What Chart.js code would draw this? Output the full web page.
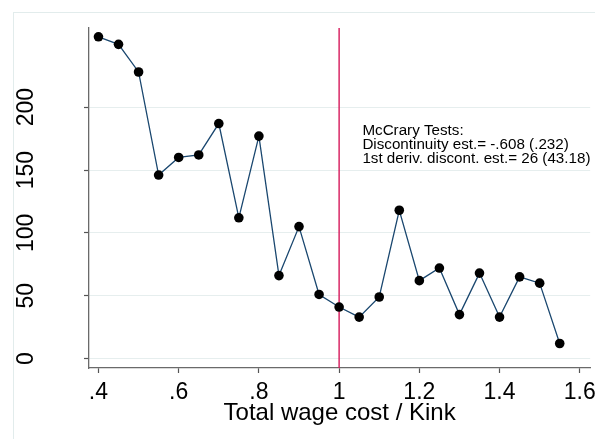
<!DOCTYPE html>
<html>
<head>
<meta charset="utf-8">
<script src="https://cdn.jsdelivr.net/npm/chart.js@4/dist/chart.umd.min.js"></script>
<style>
  html, body { margin: 0; padding: 0; background: #ffffff; }
  #wrap { width: 595px; height: 439px; position: relative; }
</style>
</head>
<body>
<div id="wrap"><canvas id="chart" width="595" height="439"></canvas></div>
<script>
// Bin midpoints (total wage cost relative to the kink) and counts per bin
const binCenters = [0.40, 0.45, 0.50, 0.55, 0.60, 0.65, 0.70, 0.75, 0.80, 0.85, 0.90, 0.95,
                    1.00, 1.05, 1.10, 1.15, 1.20, 1.25, 1.30, 1.35, 1.40, 1.45, 1.50, 1.55];
const binCounts  = [256, 250, 228, 146, 160, 162, 187, 112, 177, 66, 105, 51,
                    41, 33, 49, 118, 62, 72, 35, 68, 33, 65, 60, 12];

const xTickValues = [0.4, 0.6, 0.8, 1.0, 1.2, 1.4, 1.6];
const xTickLabels = ['.4', '.6', '.8', '1', '1.2', '1.4', '1.6'];
const yTickValues = [0, 50, 100, 150, 200];
const yTickLabels = ['0', '50', '100', '150', '200'];

const kinkValue = 1;
const xTitle = 'Total wage cost / Kink';
const noteLines = ['McCrary Tests:',
                   'Discontinuity est.= -.608 (.232)',
                   '1st deriv. discont. est.= 26 (43.18)'];

const FONT = '"Liberation Sans", Arial, Helvetica, sans-serif';
const NOTE_AT = { x: 1.058, y: 170 };

const points = binCenters.map((x, i) => ({ x, y: binCounts[i] }));

// Light outer frame around the whole graph region
const framePlugin = {
  id: 'frame',
  beforeDraw(chart) {
    const ctx = chart.ctx;
    ctx.save();
    ctx.fillStyle = '#ffffff';
    ctx.fillRect(0, 0, chart.width, chart.height);
    ctx.strokeStyle = '#e2ecec';
    ctx.lineWidth = 1;
    ctx.strokeRect(13.5, 12.5, chart.width + 20, chart.height + 20);
    ctx.restore();
  }
};

// Vertical reference line at the kink
const kinkPlugin = {
  id: 'kinkLine',
  beforeDatasetsDraw(chart) {
    const { ctx, chartArea, scales } = chart;
    const px = scales.x.getPixelForValue(kinkValue);
    ctx.save();
    ctx.strokeStyle = '#d6185a';
    ctx.lineWidth = 1.4;
    ctx.beginPath();
    ctx.moveTo(px, chartArea.top);
    ctx.lineTo(px, chartArea.bottom);
    ctx.stroke();
    ctx.restore();
  }
};

// Test statistics written inside the plot
const notePlugin = {
  id: 'note',
  afterDatasetsDraw(chart) {
    const { ctx, scales } = chart;
    const x = scales.x.getPixelForValue(NOTE_AT.x);
    const yMid = scales.y.getPixelForValue(NOTE_AT.y);
    const lh = 14.3;
    ctx.save();
    ctx.fillStyle = '#000000';
    ctx.font = '15.2px ' + FONT;
    ctx.textAlign = 'left';
    ctx.textBaseline = 'middle';
    noteLines.forEach((t, i) => {
      ctx.fillText(t, x, yMid + (i - (noteLines.length - 1) / 2) * lh);
    });
    ctx.restore();
  }
};

new Chart(document.getElementById('chart'), {
  type: 'scatter',
  data: {
    datasets: [{
      data: points,
      showLine: true,
      borderColor: '#1a476f',
      borderWidth: 1.3,
      pointRadius: 4.8,
      pointHoverRadius: 4.8,
      pointBackgroundColor: '#000000',
      pointBorderWidth: 0,
      tension: 0
    }]
  },
  options: {
    responsive: false,
    animation: false,
    events: [],
    layout: { padding: { top: 28, right: 3, left: 0, bottom: 0 } },
    plugins: { legend: { display: false }, tooltip: { enabled: false } },
    scales: {
      x: {
        type: 'linear',
        min: 0.3764,
        max: 1.626,
        afterBuildTicks(scale) { scale.ticks = xTickValues.map(v => ({ value: v })); },
        afterFit(scale) { scale.height = 71; scale.paddingLeft = 0; scale.paddingRight = 0; },
        border: { color: '#6a6a6a', width: 1.3 },
        grid: { drawOnChartArea: false, drawTicks: true, tickLength: 5, tickColor: '#555555', tickWidth: 1.2 },
        ticks: {
          padding: 6,
          maxRotation: 0,
          autoSkip: false,
          color: '#000000',
          font: { family: FONT, size: 23 },
          callback(value) {
            const i = xTickValues.findIndex(v => Math.abs(v - value) < 1e-9);
            return i >= 0 ? xTickLabels[i] : '';
          }
        },
        title: {
          display: true,
          text: xTitle,
          color: '#000000',
          font: { family: FONT, size: 24 },
          padding: { top: 0, bottom: 11 }
        }
      },
      y: {
        type: 'linear',
        min: -7.5,
        max: 263,
        afterBuildTicks(scale) { scale.ticks = yTickValues.map(v => ({ value: v })); },
        afterFit(scale) { scale.width = 89; scale.paddingTop = 0; scale.paddingBottom = 0; },
        border: { color: '#6a6a6a', width: 1.3 },
        grid: { color: '#e6eeee', lineWidth: 1, drawTicks: true, tickLength: 5, tickColor: '#555555', tickWidth: 1.2 },
        ticks: {
          minRotation: 90,
          maxRotation: 90,
          crossAlign: 'center',
          padding: 38,
          autoSkip: false,
          color: '#000000',
          font: { family: FONT, size: 23 },
          callback(value) {
            const i = yTickValues.indexOf(value);
            return i >= 0 ? yTickLabels[i] : '';
          }
        }
      }
    }
  },
  plugins: [framePlugin, kinkPlugin, notePlugin]
});
</script>
</body>
</html>
